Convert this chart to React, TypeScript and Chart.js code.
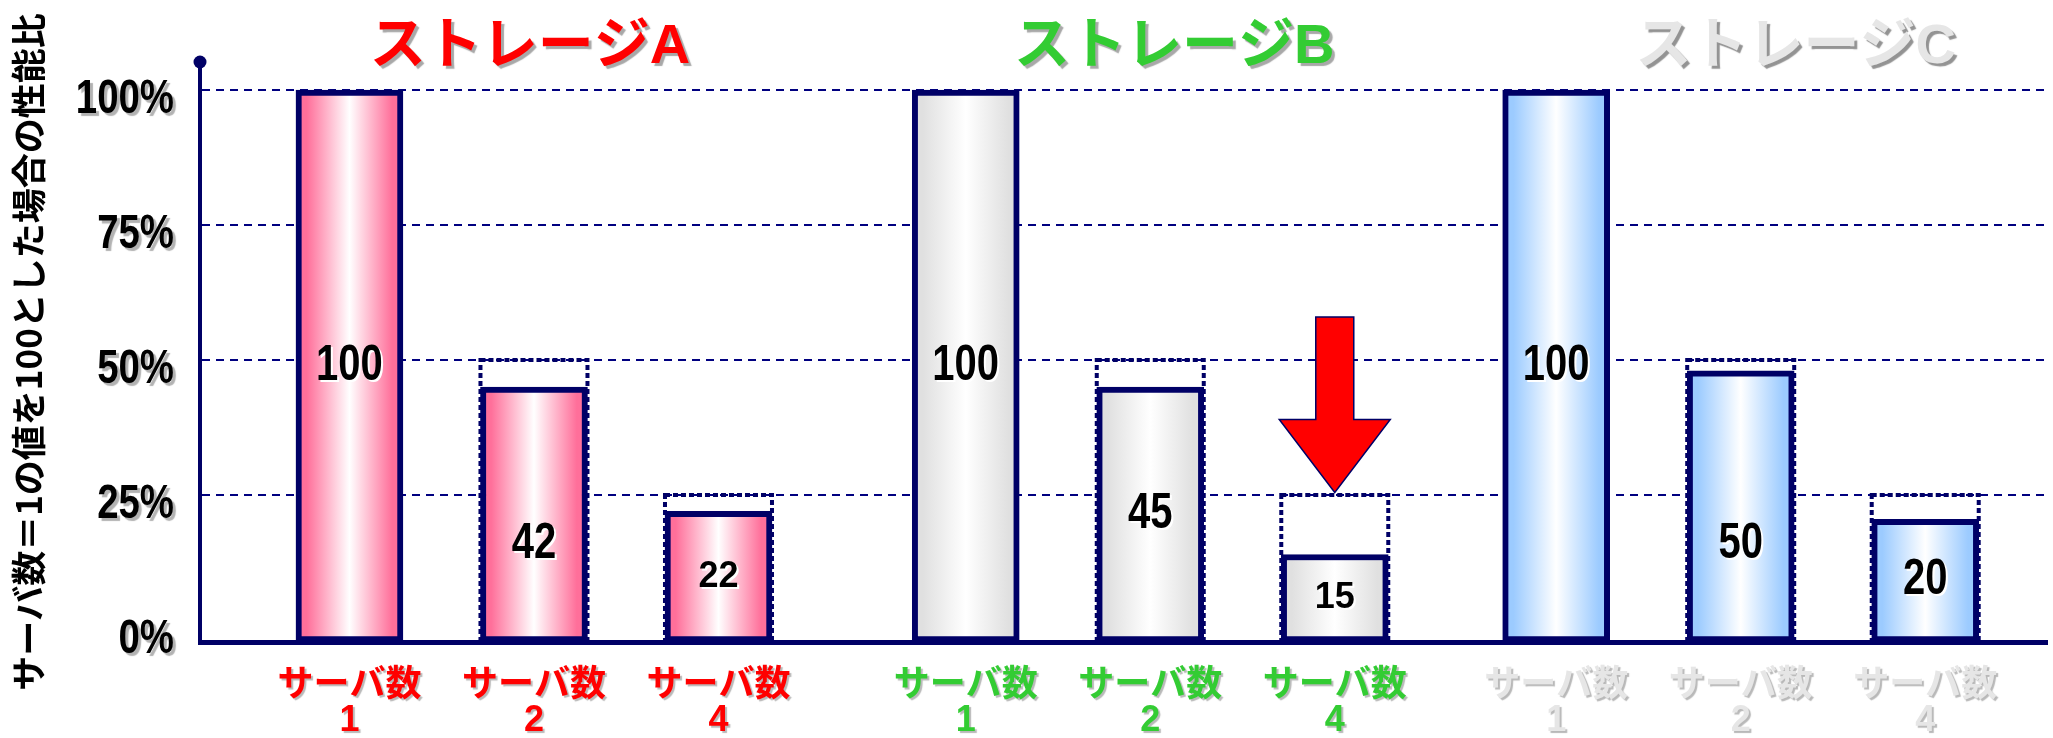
import { useEffect, useRef } from "react";
import { Chart, registerables } from "chart.js";

Chart.register(...registerables);

// ---------- data ----------
const groupNames = ["ストレージA", "ストレージB", "ストレージC"];
const serverCounts = [1, 2, 4];
const groupStarts = [1, 4.34, 7.54];
const barHeights = [100, 45, 22, 100, 45, 14, 100, 48, 20.5];
const valueLabels = ["100", "42", "22", "100", "45", "15", "100", "50", "20"];
const idealValues = [100, 50, 25];
const yTickValues = [0, 25, 50, 75, 100];
const yRange = [-2.2, 105.2];
const xRange = [0.19, 10.2];
const arrowValues = { bar: 5, from: 58, head: 39, to: 25.5 };

// ---------- style ----------
const NAVY = "#000066";
const GRID = "#000080";
const groupTextColors = ["#FF0000", "#33CC33", "#E6E6E6"];
const barEdgeColors = ["#FF6F9A", "#E0E0E0", "#9CCBFF"];
const BAR_W = 107;
const SANS = "'Liberation Sans', 'Noto Sans CJK JP', sans-serif";
const CJK = "'Noto Sans CJK JP', 'Liberation Sans', sans-serif";
const titleNudge = [-4, 24, 55];
const smallLabels = new Set([2, 5]);
const labelDrop: Record<number, number> = { 1: 30, 7: 38 };
const NARROW_X = 0.8;

const positions: number[] = [];
groupStarts.forEach((g) => serverCounts.forEach((_, i) => positions.push(g + i)));

function patchLabels(scale: any, color: string, off: number, squeezeAt?: () => number) {
  if (scale.__patched) return;
  const orig = scale.drawLabels.bind(scale);
  scale.drawLabels = (area: any) => {
    const c = scale.ctx as CanvasRenderingContext2D;
    c.save();
    c.shadowColor = color;
    c.shadowOffsetX = off;
    c.shadowOffsetY = off;
    c.shadowBlur = 1;
    if (squeezeAt) {
      const ax = squeezeAt();
      c.translate(ax, 0);
      c.scale(NARROW_X, 1);
      c.translate(-ax, 0);
    }
    orig(area);
    c.restore();
  };
  scale.__patched = true;
}

const overlayPlugin = {
  id: "overlay",
  beforeDatasetsDraw(chart: any) {
    const ctx = chart.ctx as CanvasRenderingContext2D;
    const xs = chart.scales.x;
    const ys = chart.scales.y;
    ctx.save();
    ctx.strokeStyle = NAVY;
    ctx.lineWidth = 4;
    ctx.setLineDash([5, 3]);
    positions.forEach((p, i) => {
      const s = i % 3;
      if (s === 0) return;
      const cx = xs.getPixelForValue(p);
      const top = ys.getPixelForValue(idealValues[s]);
      const bot = ys.getPixelForValue(yRange[0]);
      ctx.strokeRect(cx - BAR_W / 2, top, BAR_W, bot - top);
    });
    ctx.restore();
  },
  afterDatasetsDraw(chart: any) {
    const ctx = chart.ctx as CanvasRenderingContext2D;
    const xs = chart.scales.x;
    const ys = chart.scales.y;
    const area = chart.chartArea;

    // value labels
    positions.forEach((p, i) => {
      const cx = xs.getPixelForValue(p);
      const top = ys.getPixelForValue(barHeights[i]);
      const bot = ys.getPixelForValue(yRange[0]);
      const cy = (top + bot) / 2 + (labelDrop[i] || 0);
      ctx.save();
      ctx.textAlign = "center";
      ctx.textBaseline = "middle";
      ctx.shadowColor = "#FFFFFF";
      ctx.shadowOffsetX = 2;
      ctx.shadowOffsetY = 2;
      ctx.fillStyle = "#000000";
      if (smallLabels.has(i)) {
        ctx.font = `bold 36px ${SANS}`;
        ctx.fillText(valueLabels[i], cx, cy);
      } else {
        ctx.font = `bold 50px ${SANS}`;
        ctx.translate(cx, cy);
        ctx.scale(NARROW_X, 1);
        ctx.fillText(valueLabels[i], 0, 0);
      }
      ctx.restore();
    });

    // arrow
    const ax = xs.getPixelForValue(positions[arrowValues.bar]);
    const yFrom = ys.getPixelForValue(arrowValues.from);
    const yHead = ys.getPixelForValue(arrowValues.head);
    const yTo = ys.getPixelForValue(arrowValues.to);
    const shaft = 19;
    const head = BAR_W / 2 + 2;
    ctx.save();
    ctx.beginPath();
    ctx.moveTo(ax - shaft, yFrom);
    ctx.lineTo(ax + shaft, yFrom);
    ctx.lineTo(ax + shaft, yHead);
    ctx.lineTo(ax + head, yHead);
    ctx.lineTo(ax, yTo);
    ctx.lineTo(ax - head, yHead);
    ctx.lineTo(ax - shaft, yHead);
    ctx.closePath();
    ctx.fillStyle = "#FF0000";
    ctx.fill();
    ctx.lineWidth = 1.5;
    ctx.strokeStyle = NAVY;
    ctx.stroke();
    ctx.restore();

    // dot on top of y axis
    ctx.save();
    ctx.beginPath();
    ctx.arc(area.left, area.top, 6.5, 0, Math.PI * 2);
    ctx.fillStyle = NAVY;
    ctx.fill();
    ctx.restore();

    // group titles
    groupNames.forEach((name, g) => {
      const cx = xs.getPixelForValue(groupStarts[g] + 1) + titleNudge[g];
      ctx.save();
      ctx.font = `bold 56px ${SANS}`;
      ctx.textAlign = "center";
      ctx.textBaseline = "middle";
      ctx.shadowColor = g === 2 ? "rgba(120,120,120,0.8)" : "rgba(110,110,110,0.6)";
      ctx.shadowOffsetX = 3;
      ctx.shadowOffsetY = 3;
      ctx.shadowBlur = 1;
      ctx.fillStyle = groupTextColors[g];
      ctx.fillText(name, cx, area.top - 14);
      ctx.restore();
    });
  },
};

export default function App() {
  const ref = useRef<HTMLCanvasElement | null>(null);

  useEffect(() => {
    document.body.style.margin = "0";
    const canvas = ref.current;
    if (!canvas) return;

    const barFill = (c: any) => {
      const i = c.dataIndex;
      const g = Math.floor((i ?? 0) / 3);
      const edge = barEdgeColors[g];
      const chart = c.chart;
      if (i === undefined || !chart.chartArea) return edge;
      const cx = chart.scales.x.getPixelForValue(positions[i]);
      const grad = chart.ctx.createLinearGradient(cx - BAR_W / 2, 0, cx + BAR_W / 2, 0);
      grad.addColorStop(0, edge);
      grad.addColorStop(0.1, edge);
      grad.addColorStop(0.5, "#FFFFFF");
      grad.addColorStop(0.9, edge);
      grad.addColorStop(1, edge);
      return grad;
    };

    const chart = new Chart(canvas, {
      type: "bar",
      data: {
        datasets: [
          {
            data: positions.map((p, i) => ({ x: p, y: barHeights[i] })),
            backgroundColor: barFill,
            borderColor: NAVY,
            borderWidth: 6,
            borderSkipped: false,
            barThickness: BAR_W,
            base: yRange[0],
          } as any,
        ],
      },
      options: {
        responsive: false,
        animation: false,
        layout: { padding: { left: 0, right: 6, top: 62, bottom: 0 } },
        plugins: { legend: { display: false }, tooltip: { enabled: false } },
        scales: {
          x: {
            type: "linear",
            offset: false,
            min: xRange[0],
            max: xRange[1],
            grid: { display: false, drawTicks: false },
            border: { display: true, color: NAVY, width: 5 },
            afterBuildTicks: (scale: any) => {
              scale.ticks = positions.map((p) => ({ value: p }));
            },
            afterFit: (scale: any) => {
              scale.height = 96;
              patchLabels(scale, "rgba(0,0,0,0.28)", 2);
            },
            ticks: {
              autoSkip: false,
              maxRotation: 0,
              padding: 26,
              color: (c: any) => groupTextColors[Math.floor(c.index / 3)],
              font: { family: SANS, size: 36, weight: "bold", lineHeight: 0.98 },
              callback: (_v: any, index: number) => ["サーバ数", String(serverCounts[index % 3])],
            },
          },
          y: {
            type: "linear",
            min: yRange[0],
            max: yRange[1],
            afterBuildTicks: (scale: any) => {
              scale.ticks = yTickValues.map((v) => ({ value: v }));
            },
            afterFit: (scale: any) => {
              scale.width = 200;
              patchLabels(scale, "rgba(0,0,0,0.3)", 3, () => scale.right - 26);
            },
            grid: {
              color: (c: any) => (c.tick && c.tick.value === 0 ? "rgba(0,0,0,0)" : GRID),
              lineWidth: 2,
              drawTicks: false,
            },
            border: { display: true, color: NAVY, width: 4, dash: [8, 6] },
            ticks: {
              padding: 26,
              labelOffset: 10,
              color: "#000000",
              font: { family: SANS, size: 48, weight: "bold" },
              callback: (v: any) => `${v}%`,
            },
            title: {
              display: true,
              text: "サーバ数＝1の値を100とした場合の性能比",
              color: "#000000",
              font: { family: CJK, size: 35, weight: "bold", lineHeight: 1.2 },
              padding: { top: 8, bottom: 0 },
            },
          },
        },
      },
      plugins: [overlayPlugin],
    });

    return () => chart.destroy();
  }, []);

  return <canvas ref={ref} width={2053} height={738} style={{ display: "block" }} />;
}
